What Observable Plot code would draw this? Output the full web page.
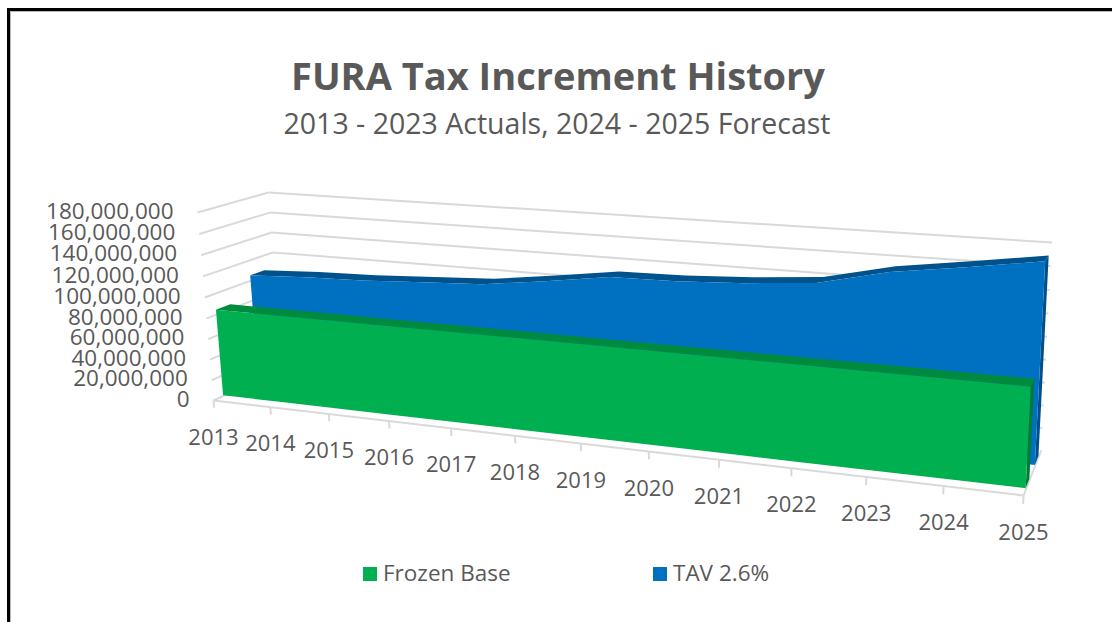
<!DOCTYPE html>
<html>
<head>
<meta charset="utf-8">
<script src="https://cdn.jsdelivr.net/npm/d3@7"></script>
<script src="https://cdn.jsdelivr.net/npm/@observablehq/plot@0.6"></script>
<style>
  html, body { margin: 0; padding: 0; background: #fff; }
  #page { position: relative; width: 1112px; height: 622px; overflow: hidden; font-family: "Open Sans", sans-serif; color: #595959; }
  #frame { position: absolute; left: 7px; top: 8px; width: 1110px; height: 620px; border: 3px solid #000; box-sizing: border-box; box-shadow: inset 1px 1px 0 #b8b8b8; }
  #head { height: 170px; text-align: center; position: relative; }
  #title { position: absolute; left: 0; width: 1116px; top: 50px; font-size: 38px; font-weight: 700; line-height: 50px; }
  #subtitle { position: absolute; left: 0; width: 1114px; top: 104px; font-size: 28.5px; line-height: 38px; }
  #chart { height: 385px; }
  #chart svg { display: block; }
  #legend { position: relative; height: 67px; font-size: 22.5px; }
  .item { position: absolute; top: 3px; line-height: 30px; }
  .swatch { display: inline-block; width: 14px; height: 14px; margin-right: 6px; }
</style>
</head>
<body>
<div id="page">
  <div id="frame"></div>
  <div id="head">
    <div id="title"></div>
    <div id="subtitle"></div>
  </div>
  <div id="chart"></div>
  <div id="legend"></div>
</div>
<script>
const titleText = "FURA Tax Increment History";
const subtitleText = "2013 - 2023 Actuals, 2024 - 2025 Forecast";
const years = [2013, 2014, 2015, 2016, 2017, 2018, 2019, 2020, 2021, 2022, 2023, 2024, 2025];
const frozenBase = [84e6, 84e6, 84e6, 84e6, 84e6, 84e6, 84e6, 84e6, 84e6, 84e6, 84e6, 84e6, 84e6];
const tav = [104.8e6, 107.5e6, 109e6, 112e6, 115e6, 122.6e6, 131e6, 132e6, 135e6, 140e6, 154e6, 162.6e6, 172e6];
const yTicks = [0, 20e6, 40e6, 60e6, 80e6, 100e6, 120e6, 140e6, 160e6, 180e6];
const yMax = 180e6;
const seriesNames = ["Frozen Base", "TAV 2.6%"];
const depthFrozen = [0.14, 0.34];
const depthTav = [0.65, 0.86];
const colors = {
  green: "#00B050", greenTop: "#008A3E", greenSide: "#007A37",
  blue: "#0070C0", blueTop: "#00528C", blueSide: "#004F88",
  grid: "#D9D9D9", text: "#595959"
};

// Pinhole camera of the 3D chart box: u along years, v up the value axis, w into the depth.
function project(i, value, w) {
  const u = i / (years.length - 1), v = value / yMax;
  const d = 1 - 0.17 * u - 0.03 * v + 0.07 * w;
  return [
    (213 + 636.1 * u - 21.9 * v + 87.6 * w) / d,
    (400 + 10.85 * u - 194.4 * v - 5.9 * w) / d
  ];
}
const px = (i, value, w) => project(i, value, w)[0];
const py = (i, value, w) => project(i, value, w)[1];

function drawSeries(values, depth, fill, topFill, sideFill) {
  const rows = values.map((value, i) => ({i, value}));
  const [f, b] = depth;
  const end = rows[rows.length - 1];
  return [
    Plot.area([f, b], {
      x1: w => px(end.i, 0, w), y1: w => py(end.i, 0, w),
      x2: w => px(end.i, end.value, w), y2: w => py(end.i, end.value, w),
      fill: sideFill
    }),
    Plot.area(rows, {
      x1: d => px(d.i, d.value, f), y1: d => py(d.i, d.value, f),
      x2: d => px(d.i, d.value, b), y2: d => py(d.i, d.value, b),
      fill: topFill
    }),
    Plot.area(rows, {
      x1: d => px(d.i, 0, f), y1: d => py(d.i, 0, f),
      x2: d => px(d.i, d.value, f), y2: d => py(d.i, d.value, f),
      fill
    })
  ];
}

const last = years.length - 1;
const wallTicks = yTicks.filter(t => t > 0);
const fmt = d3.format(",");
const gridStyle = {stroke: colors.grid, strokeWidth: 2};

const chart = Plot.plot({
  width: 1112, height: 385,
  margin: 0,
  x: {type: "linear", domain: [0, 1112], range: [0, 1112], axis: null},
  y: {type: "linear", domain: [170, 555], range: [0, 385], axis: null},
  style: {background: "transparent", overflow: "visible"},
  marks: [
    // walls
    Plot.link(wallTicks, {
      x1: t => px(0, t, 0), y1: t => py(0, t, 0),
      x2: t => px(0, t, 1), y2: t => py(0, t, 1),
      ...gridStyle
    }),
    Plot.link(wallTicks, {
      x1: t => px(0, t, 1), y1: t => py(0, t, 1),
      x2: t => px(last, t, 1), y2: t => py(last, t, 1),
      ...gridStyle
    }),
    // floor outline and ticks
    Plot.link([0, last], {
      x1: i => px(i, 0, 0), y1: i => py(i, 0, 0),
      x2: i => px(i, 0, 1), y2: i => py(i, 0, 1),
      ...gridStyle
    }),
    Plot.link([0], {
      x1: () => px(0, 0, 0), y1: () => py(0, 0, 0),
      x2: () => px(last, 0, 0), y2: () => py(last, 0, 0),
      ...gridStyle
    }),
    Plot.link(years.map((y, i) => i), {
      x1: i => px(i, 0, 0), y1: i => py(i, 0, 0),
      x2: i => px(i, -7e6, 0), y2: i => py(i, -7e6, 0),
      ...gridStyle
    }),
    // series, back to front
    ...drawSeries(tav, depthTav, colors.blue, colors.blueTop, colors.blueSide),
    ...drawSeries(frozenBase, depthFrozen, colors.green, colors.greenTop, colors.greenSide),
    // axis labels
    Plot.text(yTicks, {
      x: t => px(0, t, 0), y: t => py(0, t, 0) - 1,
      text: t => fmt(t), textAnchor: "end", dx: -24,
      fontSize: 22.5, fill: colors.text, fontFamily: "Open Sans"
    }),
    Plot.text(years.map((y, i) => i), {
      x: i => px(i, 0, 0), y: i => py(i, 0, 0),
      text: i => String(years[i]), dy: 37,
      fontSize: 22, fill: colors.text, fontFamily: "Open Sans"
    })
  ]
});
document.getElementById("chart").appendChild(chart);
document.getElementById("title").textContent = titleText;
document.getElementById("subtitle").textContent = subtitleText;

const legend = document.getElementById("legend");
[[seriesNames[0], colors.green, 363], [seriesNames[1], colors.blue, 653]].forEach(([name, color, left]) => {
  const item = document.createElement("div");
  item.className = "item";
  item.style.left = left + "px";
  const sw = document.createElement("span");
  sw.className = "swatch";
  sw.style.background = color;
  item.appendChild(sw);
  item.appendChild(document.createTextNode(name));
  legend.appendChild(item);
});
</script>
</body>
</html>
